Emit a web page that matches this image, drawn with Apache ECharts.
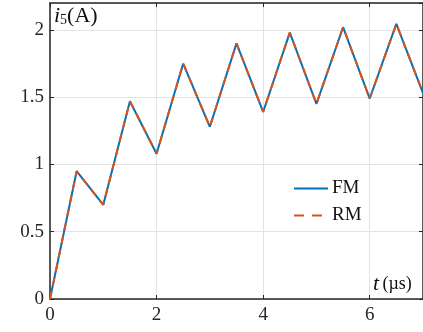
<!DOCTYPE html>
<html><head><meta charset="utf-8">
<script src="https://cdn.jsdelivr.net/npm/echarts@6/dist/echarts.min.js"></script>
<style>html,body{margin:0;padding:0;background:#fff}#c{width:423px;height:332px}</style>
</head><body><div id="c"></div>
<script>
const tValues = [0, 0.5, 1, 1.5, 2, 2.5, 3, 3.5, 4, 4.5, 5, 5.5, 6, 6.5, 7];
const fmValues = [0, 0.95, 0.70, 1.47, 1.08, 1.75, 1.28, 1.90, 1.39, 1.98, 1.45, 2.02, 1.49, 2.045, 1.53];
const rmValues = [0, 0.95, 0.70, 1.47, 1.08, 1.75, 1.28, 1.90, 1.39, 1.98, 1.45, 2.02, 1.49, 2.045, 1.53];
const xTicks = [0, 2, 4, 6];
const yTicks = [0, 0.5, 1, 1.5, 2];
const seriesNames = ['FM', 'RM'];

const FONT = 'Liberation Serif';
const axisCol = '#262626';
const chart = echarts.init(document.getElementById('c'), null, {renderer: 'canvas'});
const fmtX = v => xTicks.includes(v) ? String(v) : '';
const fmtY = v => yTicks.includes(v) ? String(v) : '';
const common = {
  axisLine: {show: true, onZero: false, lineStyle: {color: axisCol, width: 1.5}},
  axisTick: {show: true, inside: true, length: 4, lineStyle: {color: axisCol, width: 1}},
  splitLine: {show: false},
};
chart.setOption({
  animation: false,
  grid: {left: 50, top: 3, width: 375.7, height: 296, containLabel: false},
  xAxis: [
    Object.assign({type: 'value', min: 0, max: 7, interval: 2, position: 'bottom',
      axisLabel: {formatter: fmtX, color: axisCol, fontFamily: FONT, fontSize: 19, margin: 7, showMaxLabel: false},
      splitLine: {show: true, lineStyle: {color: '#e3e3e3', width: 1}}}, {
      axisLine: common.axisLine, axisTick: common.axisTick}),
    Object.assign({type: 'value', min: 0, max: 7, interval: 2, position: 'top',
      axisLabel: {show: false}}, common)
  ],
  yAxis: [
    Object.assign({type: 'value', min: 0, max: 2.2, interval: 0.5, position: 'left',
      axisLabel: {formatter: fmtY, color: axisCol, fontFamily: FONT, fontSize: 19, margin: 6, showMaxLabel: false},
      splitLine: {show: true, lineStyle: {color: '#e3e3e3', width: 1}}}, {
      axisLine: common.axisLine, axisTick: common.axisTick}),
    Object.assign({type: 'value', min: 0, max: 2.2, interval: 0.5, position: 'right',
      axisLabel: {show: false}}, common)
  ],
  legend: {
    orient: 'vertical', left: 288, top: 174, itemWidth: 34, itemHeight: 14, itemGap: 8,
    data: [{name: seriesNames[0]}, {name: seriesNames[1], lineStyle: {type: [10, 8], width: 2}}],
    itemStyle: {opacity: 0},
    textStyle: {fontFamily: FONT, fontSize: 19, color: '#111', padding: [0, 0, 0, -1]}
  },
  series: [
    {name: seriesNames[0], type: 'line', symbol: 'none', data: tValues.map((t, i) => [t, fmValues[i]]),
      lineStyle: {color: '#0072BD', width: 2}, itemStyle: {color: '#0072BD'}},
    {name: seriesNames[1], type: 'line', symbol: 'none', data: tValues.map((t, i) => [t, rmValues[i]]),
      lineStyle: {color: '#D95319', width: 2, type: [8, 6]}, itemStyle: {color: '#D95319'}}
  ],
  graphic: [
    {type: 'text', left: 54, top: 5, style: {
      text: '{i|i}{s|5}{n|(A)}', rich: {
        i: {fontFamily: FONT, fontStyle: 'italic', fontSize: 22, fill: '#111'},
        s: {fontFamily: FONT, fontSize: 14, fill: '#111', verticalAlign: 'bottom', padding: [9, 0, 0, 0]},
        n: {fontFamily: FONT, fontSize: 22, fill: '#111'}
      }}},
    {type: 'text', left: 373, top: 273, style: {
      text: '{t|t} {n|(µs)}', rich: {
        t: {fontFamily: FONT, fontStyle: 'italic', fontSize: 22, fill: '#111'},
        n: {fontFamily: FONT, fontSize: 18, fill: '#111'}
      }}}
  ]
});
</script></body></html>
